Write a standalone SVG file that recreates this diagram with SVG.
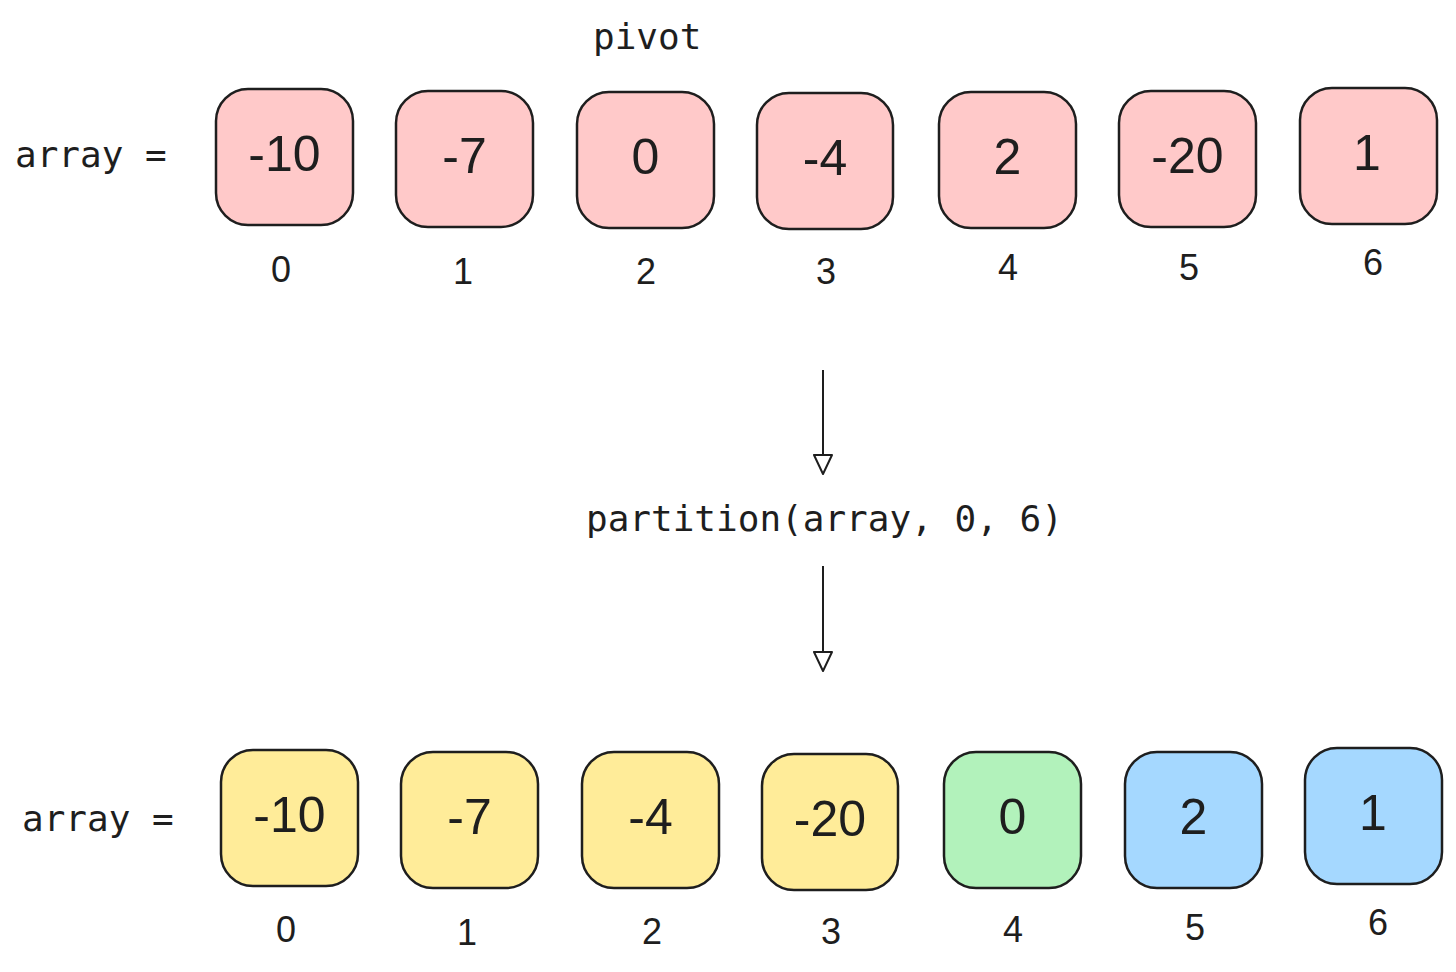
<svg xmlns="http://www.w3.org/2000/svg" width="1456" height="972" viewBox="0 0 1456 972">
<defs>
<style>
.box{stroke:#1e1e1e;stroke-width:2.5}
.pink{fill:#ffc9c9}.yel{fill:#ffec99}.grn{fill:#b2f2bb}.blu{fill:#a5d8ff}
.val{font-family:"Liberation Sans",Arial,sans-serif;font-size:50px;fill:#1e1e1e;text-anchor:middle}
.idx{font-family:"Liberation Sans",Arial,sans-serif;font-size:36px;fill:#1e1e1e;text-anchor:middle}
.code{font-family:"DejaVu Sans Mono","Liberation Mono",monospace;font-size:36px;fill:#1e1e1e}
.conn{stroke:#1e1e1e;stroke-width:2;fill:none}
</style>
<marker id="tri" markerWidth="22" markerHeight="22" refX="10" refY="20" orient="0" markerUnits="userSpaceOnUse" viewBox="0 0 22 22">
<path d="M1 1 L19 1 L10 20 Z" fill="#fff" stroke="#1e1e1e" stroke-width="2" stroke-linejoin="round"/>
</marker>
</defs>
<rect width="1456" height="972" fill="#fff"/>

<text id="label-array-top" class="code" x="15" y="167">array =</text>
<text id="label-pivot" class="code" x="593" y="49">pivot</text>
<text id="label-partition" class="code" x="586" y="531">partition(array, 0, 6)</text>
<text id="label-array-bottom" class="code" x="22" y="831">array =</text>

<g id="top-0"><rect class="box pink" x="216" y="89" width="137" height="136" rx="32"/><text class="val" x="284.5" y="171">-10</text><text class="idx" x="281" y="282">0</text></g>
<g id="top-1"><rect class="box pink" x="396" y="91" width="137" height="136" rx="32"/><text class="val" x="464.5" y="173">-7</text><text class="idx" x="463" y="284">1</text></g>
<g id="top-2"><rect class="box pink" x="577" y="92" width="137" height="136" rx="32"/><text class="val" x="645.5" y="174">0</text><text class="idx" x="646" y="284">2</text></g>
<g id="top-3"><rect class="box pink" x="757" y="93" width="136" height="136" rx="32"/><text class="val" x="825" y="175">-4</text><text class="idx" x="826" y="284">3</text></g>
<g id="top-4"><rect class="box pink" x="939" y="92" width="137" height="136" rx="32"/><text class="val" x="1007.5" y="174">2</text><text class="idx" x="1008" y="280">4</text></g>
<g id="top-5"><rect class="box pink" x="1119" y="91" width="137" height="136" rx="32"/><text class="val" x="1187.5" y="173">-20</text><text class="idx" x="1189" y="280">5</text></g>
<g id="top-6"><rect class="box pink" x="1300" y="88" width="137" height="136" rx="32"/><text class="val" x="1367" y="170">1</text><text class="idx" x="1373" y="275">6</text></g>

<g id="connectors">
<line class="conn" x1="823" y1="370" x2="823" y2="474" marker-end="url(#tri)"/>
<line class="conn" x1="823" y1="566" x2="823" y2="671" marker-end="url(#tri)"/>
</g>

<g id="bot-0"><rect class="box yel" x="221" y="750" width="137" height="136" rx="32"/><text class="val" x="289.5" y="832">-10</text><text class="idx" x="286" y="942">0</text></g>
<g id="bot-1"><rect class="box yel" x="401" y="752" width="137" height="136" rx="32"/><text class="val" x="469.5" y="834">-7</text><text class="idx" x="467" y="945">1</text></g>
<g id="bot-2"><rect class="box yel" x="582" y="752" width="137" height="136" rx="32"/><text class="val" x="650.5" y="834">-4</text><text class="idx" x="652" y="944">2</text></g>
<g id="bot-3"><rect class="box yel" x="762" y="754" width="136" height="136" rx="32"/><text class="val" x="830" y="836">-20</text><text class="idx" x="831" y="944">3</text></g>
<g id="bot-4"><rect class="box grn" x="944" y="752" width="137" height="136" rx="32"/><text class="val" x="1012.5" y="834">0</text><text class="idx" x="1013" y="942">4</text></g>
<g id="bot-5"><rect class="box blu" x="1125" y="752" width="137" height="136" rx="32"/><text class="val" x="1193.5" y="834">2</text><text class="idx" x="1195" y="940">5</text></g>
<g id="bot-6"><rect class="box blu" x="1305" y="748" width="137" height="136" rx="32"/><text class="val" x="1373" y="830">1</text><text class="idx" x="1378" y="935">6</text></g>
</svg>
